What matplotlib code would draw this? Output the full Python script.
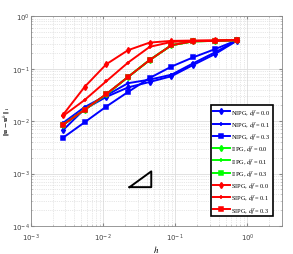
import matplotlib
matplotlib.use("Agg")
import matplotlib.pyplot as plt
import numpy as np

h = [0.707 / 2**k for k in range(8, -1, -1)]

nipg_00 = [0.0067, 0.0170, 0.0290, 0.0440, 0.0560, 0.0720, 0.118, 0.190, 0.340]
nipg_01 = [0.0092, 0.0185, 0.0310, 0.0530, 0.0620, 0.0770, 0.127, 0.205, 0.344]
nipg_03 = [0.0048, 0.0095, 0.0190, 0.0360, 0.0667, 0.1100, 0.165, 0.236, 0.348]

iipg_00 = [0.0085, 0.0165, 0.0324, 0.0696, 0.147, 0.281, 0.334, 0.340, 0.350]
iipg_01 = [0.0085, 0.0165, 0.0324, 0.0696, 0.147, 0.281, 0.334, 0.340, 0.350]
iipg_03 = [0.0085, 0.0165, 0.0324, 0.0696, 0.147, 0.281, 0.334, 0.340, 0.350]

sipg_00 = [0.0131, 0.0450, 0.122, 0.226, 0.316, 0.340, 0.345, 0.348, 0.352]
sipg_01 = [0.0125, 0.0253, 0.0578, 0.131, 0.262, 0.325, 0.340, 0.345, 0.352]
sipg_03 = [0.0085, 0.0165, 0.0330, 0.0696, 0.147, 0.281, 0.334, 0.340, 0.350]

labels = ["NIPG, $df$ = 0.0", "NIPG, $df$ = 0.1", "NIPG, $df$ = 0.3",
          "IIPG, $df$ = 0.0", "IIPG, $df$ = 0.1", "IIPG, $df$ = 0.3",
          "SIPG, $df$ = 0.0", "SIPG, $df$ = 0.1", "SIPG, $df$ = 0.3"]

tri_x = [0.0232, 0.0464, 0.0464, 0.0232]
tri_y = [5.5e-4, 5.5e-4, 1.1e-3, 5.5e-4]

plt.rcParams['mathtext.fontset'] = 'dejavusans'
fig = plt.figure(figsize=(2.93, 2.55), dpi=100)
ax = fig.add_axes([0.106, 0.110, 0.856, 0.822])

series = [nipg_00, nipg_01, nipg_03, iipg_00, iipg_01, iipg_03, sipg_00, sipg_01, sipg_03]
colors = ['#0000ff'] * 3 + ['#00ff00'] * 3 + ['#ff0000'] * 3
markers = ['d', '+', 's'] * 3
for s, c, m, lab in zip(series, colors, markers, labels):
    ax.loglog(h, s, color=c, marker=m, markersize=3, linewidth=1.4,
              markeredgewidth=1.1, label=lab)

ax.plot(tri_x, tri_y, color='black', linewidth=1.4)

ax.set_xlim(1e-3, 3)
ax.set_ylim(1e-4, 1)
ax.grid(True, which='major', color='#dddddd', linewidth=0.6)
ax.grid(True, which='minor', color='#d0d0d0', linestyle=':', linewidth=0.5)
for sp in ax.spines.values():
    sp.set_color('#888888')
    sp.set_linewidth(0.6)
ax.tick_params(which='both', direction='in', top=True, right=True, colors='#888888',
               labelsize=5, labelcolor='#444444', length=2, pad=2)
ax.tick_params(axis='x', which='both', pad=4)
ax.tick_params(axis='y', which='both', pad=1)
ax.tick_params(which='minor', length=1)
xl = ax.set_xlabel('$h$', fontsize=6.5, labelpad=0)
yl = ax.set_ylabel(r'$\|\mathbf{u}-\mathbf{u}^h\|_1$', fontsize=5.3)
ax.yaxis.set_label_coords(-0.074, 0.5)
xl.set_math_fontfamily('stix')
yl.set_math_fontfamily('stix')

leg = ax.legend(loc='lower right', prop={'family': 'Liberation Serif', 'size': 4.6},
                frameon=True, fancybox=False, borderpad=0.3, labelspacing=0.35,
                handlelength=2.6, handletextpad=0.3, bbox_to_anchor=(0.977, 0.03))
leg.get_frame().set_edgecolor('black')
leg.get_frame().set_linewidth(1.2)
leg.get_frame().set_alpha(1)
for t in leg.get_texts():
    t.set_math_fontfamily('stix')

fig.savefig('out.png', dpi=100)
